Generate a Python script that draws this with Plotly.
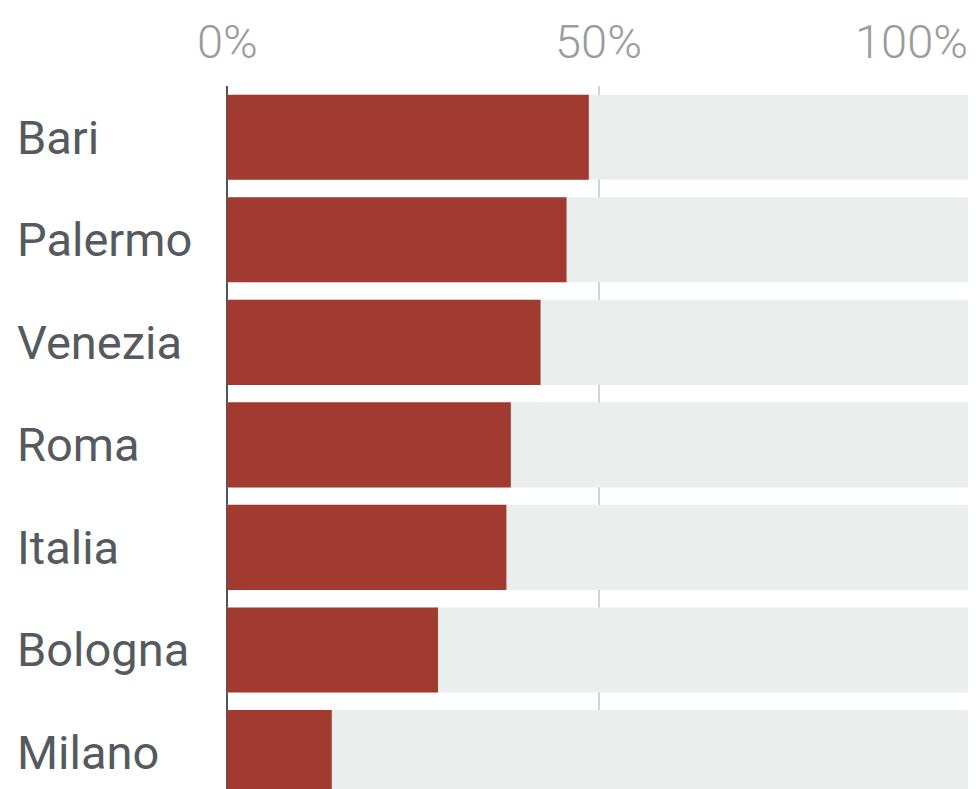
import plotly.graph_objects as go

citta = ["Bari", "Palermo", "Venezia", "Roma", "Italia", "Bologna", "Milano"]
valori = [48.7, 45.7, 42.2, 38.2, 37.6, 28.4, 14.1]
totale = [100, 100, 100, 100, 100, 100, 100]
tick_vals = [0, 50, 100]
tick_text = ["0%", "50%", "100%"]

RED = "#a13b2f"
BG = "#eaeeed"
FONT = "Roboto, 'Open Sans', sans-serif"

fig = go.Figure()
fig.add_trace(go.Bar(y=citta, x=totale, orientation="h", marker=dict(color=BG, line=dict(width=0)),
                     hoverinfo="skip", showlegend=False))
fig.add_trace(go.Bar(y=citta, x=valori, orientation="h", marker=dict(color=RED, line=dict(width=0)),
                     showlegend=False))

annotations = []
for c in citta:
    annotations.append(dict(xref="paper", x=0, xanchor="left", xshift=-212,
                            yref="y", y=c, yanchor="middle", text=c, showarrow=False,
                            font=dict(family=FONT, size=47, color="#555a5e")))
vmax = max(tick_vals)
for v, t in zip(tick_vals, tick_text):
    annotations.append(dict(xref="x", x=v, xanchor="right" if v == vmax else "center",
                            yref="paper", y=1, yanchor="middle", yshift=45,
                            text=t, showarrow=False,
                            font=dict(family=FONT, size=47, color="#9a9c9e", weight=300)))

fig.update_layout(
    width=968, height=781,
    margin=dict(l=219, r=6, t=78, b=0, pad=0),
    paper_bgcolor="white", plot_bgcolor="white",
    barmode="overlay", bargap=0.17,
    annotations=annotations,
    xaxis=dict(range=[0, 100], tickvals=tick_vals, showticklabels=False,
               showgrid=True, gridcolor="#d0d4d4", gridwidth=2,
               zeroline=True, zerolinecolor="#4d5660", zerolinewidth=2,
               layer="above traces", fixedrange=True),
    yaxis=dict(type="category", categoryorder="array", categoryarray=citta,
               range=[6.356, -0.5], showticklabels=False, showgrid=False,
               zeroline=False, fixedrange=True),
)

fig.write_html("out.html", config={"displayModeBar": False})
